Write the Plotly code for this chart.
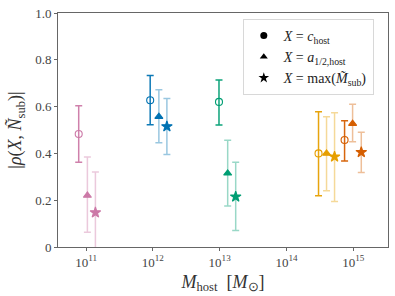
import plotly.graph_objects as go

# Data: log10 host mass positions, correlation values, upper/lower bounds
colors = ["#CC79A7", "#0072B2", "#009E73", "#E69F00", "#D55E00"]

# circle: X = c_host
c_logm = [10.89, 11.96, 12.99, 14.48, 14.87]
c_val = [0.483, 0.627, 0.620, 0.400, 0.457]
c_hi = [0.604, 0.733, 0.714, 0.578, 0.540]
c_lo = [0.362, 0.522, 0.521, 0.219, 0.367]

# triangle: X = a_1/2,host
t_logm = [11.02, 12.09, 13.12, 14.60, 14.99]
t_val = [0.220, 0.557, 0.315, 0.400, 0.527]
t_hi = [0.385, 0.672, 0.456, 0.557, 0.610]
t_lo = [0.063, 0.445, 0.175, 0.240, 0.450]

# star: X = max(M_sub)
s_logm = [11.14, 12.21, 13.24, 14.72, 15.12]
s_val = [0.147, 0.515, 0.215, 0.386, 0.405]
s_hi = [0.320, 0.635, 0.362, 0.574, 0.490]
s_lo = [-0.05, 0.395, 0.070, 0.194, 0.318]

xtick_vals = [11, 12, 13, 14, 15]
xtick_text = ["10<sup>11</sup>", "10<sup>12</sup>", "10<sup>13</sup>", "10<sup>14</sup>", "10<sup>15</sup>"]
ytick_vals = [0, 0.2, 0.4, 0.6, 0.8, 1.0]
ytick_text = ["0", "0.2", "0.4", "0.6", "0.8", "1.0"]

legend_labels = [
    "<i>X</i> = <i>c</i><sub>host</sub>",
    "<i>X</i> = <i>a</i><sub>1/2,host</sub>",
    "<i>X</i> = max(<i>M̃</i><sub>sub</sub>)",
]

FONT = "Liberation Serif"


def rgba(hexc, a):
    h = hexc.lstrip("#")
    r, g, b = int(h[0:2], 16), int(h[2:4], 16), int(h[4:6], 16)
    return f"rgba({r},{g},{b},{a})"


fig = go.Figure()

sets = [
    (c_logm, c_val, c_hi, c_lo, "circle-open", 0.95, 7),
    (t_logm, t_val, t_hi, t_lo, "triangle-up", 0.4, 7),
    (s_logm, s_val, s_hi, s_lo, "star", 0.4, 8),
]

for logm, val, hi, lo, sym, alpha, size in sets:
    for i, col in enumerate(colors):
        fig.add_trace(go.Scatter(
            x=[10 ** logm[i]], y=[val[i]],
            mode="markers",
            marker=dict(symbol=sym, color=col, size=size,
                        line=dict(color=col, width=1.1)),
            error_y=dict(type="data", symmetric=False,
                         array=[hi[i] - val[i]], arrayminus=[val[i] - lo[i]],
                         color=rgba(col, alpha), thickness=1.5, width=3.5),
            showlegend=False,
        ))

for sym, lab, sz in zip(["circle", "triangle-up", "star"], legend_labels, [7, 7, 8]):
    fig.add_trace(go.Scatter(
        x=[None], y=[None], mode="markers",
        marker=dict(symbol=sym, color="black", size=sz),
        name=lab, showlegend=True,
    ))

fig.update_layout(
    template="none",
    width=395, height=296,
    margin=dict(l=58, r=7, t=13, b=49, autoexpand=False),
    paper_bgcolor="white", plot_bgcolor="white",
    font=dict(family=FONT, color="#333333", size=13),
    legend=dict(
        x=0.56, y=0.975, xanchor="left", yanchor="top",
        bgcolor="rgba(255,255,255,0.9)", bordercolor="#d8d8d8", borderwidth=1,
        font=dict(family=FONT, size=14, color="#222222"),
        itemsizing="trace", tracegroupgap=0, itemwidth=30,
    ),
    xaxis=dict(
        type="log", range=[10.58, 15.52], automargin=False,
        tickvals=[10 ** v for v in xtick_vals], ticktext=xtick_text,
        ticks="outside", ticklen=3, tickcolor="#666666",
        showline=True, linecolor="#666666", linewidth=1, mirror=True,
        showgrid=False, zeroline=False,
        tickfont=dict(family=FONT, size=13, color="#444444"),
        title=dict(text="<i>M</i><sub>host</sub>  [<i>M</i><sub>⊙</sub>]",
                   font=dict(family=FONT, size=18, color="#333333"), standoff=6),
    ),
    yaxis=dict(
        range=[0, 1.0], automargin=False,
        tickvals=ytick_vals, ticktext=ytick_text,
        ticks="outside", ticklen=3, tickcolor="#666666",
        showline=True, linecolor="#666666", linewidth=1, mirror=True,
        showgrid=False, zeroline=False,
        tickfont=dict(family=FONT, size=13, color="#444444"),
        title=dict(text="|<i>ρ</i>(<i>X</i>, <i>Ñ</i><sub>sub</sub>)|",
                   font=dict(family=FONT, size=18, color="#333333"), standoff=8),
    ),
)

fig.write_html("out.html", config={"displayModeBar": False},
               post_script="document.body.style.margin='0';document.body.style.padding='0';")
